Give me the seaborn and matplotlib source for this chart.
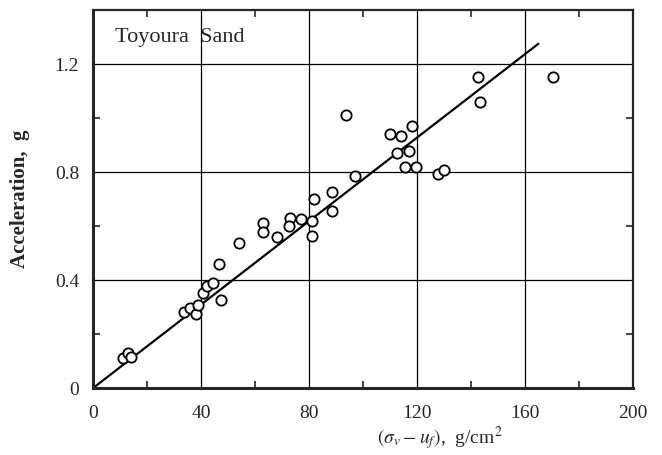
import numpy as np
import pandas as pd
import matplotlib
matplotlib.use("Agg")
from matplotlib import pyplot as plt
from matplotlib.ticker import MultipleLocator
import seaborn as sns

# effective stress (sigma_v - u_f), g/cm2  and  acceleration, g
stress = [11.0, 12.9, 14.1, 33.7, 35.9, 38.0, 39.0, 40.9, 42.1, 44.3,
          47.4, 46.7, 54.0, 62.9, 62.9, 68.3, 73.0, 72.7, 77.1, 81.1,
          81.0, 82.0, 88.6, 88.6, 93.6, 96.9, 109.9, 114.0, 118.1, 112.7,
          117.1, 115.6, 119.7, 127.8, 130.1, 142.5, 143.3, 170.3]
accel = [0.113, 0.130, 0.115, 0.280, 0.295, 0.276, 0.306, 0.352, 0.379, 0.390,
         0.325, 0.458, 0.536, 0.611, 0.579, 0.560, 0.631, 0.601, 0.628, 0.620,
         0.562, 0.700, 0.726, 0.657, 1.011, 0.787, 0.941, 0.932, 0.972, 0.870,
         0.879, 0.820, 0.817, 0.792, 0.807, 1.151, 1.060, 1.152]

# fitted straight line
fit_x = [0, 165]
fit_y = [0, 1.275]

df = pd.DataFrame({"stress": stress, "accel": accel})
fit = pd.DataFrame({"x": fit_x, "y": fit_y})

sns.set_style("ticks")
plt.rcParams["font.family"] = ["Liberation Serif", "DejaVu Serif"]
plt.rcParams["mathtext.fontset"] = "stix"

fig = plt.figure(figsize=(6.62, 4.55), dpi=100)
ax = fig.add_axes([0.1405, 0.147, 0.8155, 0.831])

sns.lineplot(x="x", y="y", data=fit, color="black", linewidth=1.6, ax=ax)
sns.scatterplot(x="stress", y="accel", data=df, marker="o", s=55,
                facecolor="white", edgecolor="black", linewidth=1.3,
                zorder=3, ax=ax)

ax.set_xlim(0, 200)
ax.set_ylim(0, 1.4)
ax.xaxis.set_major_locator(MultipleLocator(40))
ax.xaxis.set_minor_locator(MultipleLocator(20))
ax.yaxis.set_major_locator(MultipleLocator(0.4))
ax.yaxis.set_minor_locator(MultipleLocator(0.2))
ax.set_yticks([0, 0.4, 0.8, 1.2])
ax.set_yticklabels(["0", "0.4", "0.8", "1.2"])
ax.grid(True, which="major", color="black", linewidth=0.9)
ax.tick_params(axis="x", which="major", length=0, labelsize=14, pad=12)
ax.tick_params(axis="y", which="major", length=0, labelsize=14, pad=10)
ax.tick_params(which="minor", direction="in", length=5, width=1.2,
               top=True, right=True)

for side in ["left", "bottom"]:
    ax.spines[side].set_linewidth(2.2)
for side in ["top", "right"]:
    ax.spines[side].set_linewidth(1.6)
    ax.spines[side].set_visible(True)

ax.text(8, 1.30, "Toyoura  Sand", fontsize=16, va="center", ha="left")

ax.set_ylabel("Acceleration,  g", fontsize=15, fontweight="bold")
ax.yaxis.set_label_coords(-0.116, 0.5)
ax.set_xlabel(r"$(\sigma_v - u_f)$,  g/cm$^2$", fontsize=14)
ax.xaxis.set_label_coords(0.643, -0.095)

fig.savefig("out.png", dpi=100)
